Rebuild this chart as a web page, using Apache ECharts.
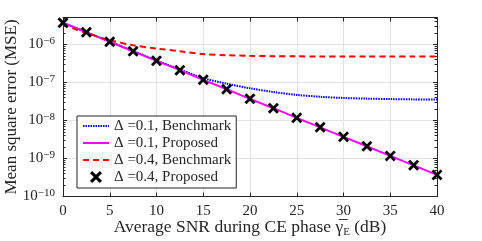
<!DOCTYPE html>
<html><head><meta charset="utf-8">
<script src="https://cdn.jsdelivr.net/npm/echarts@6/dist/echarts.min.js"></script>
<style>html,body{margin:0;padding:0;background:#fff}#c{width:482px;height:241px}</style>
</head><body><div id="c"></div>
<script>
const snr = [0, 2.5, 5, 7.5, 10, 12.5, 15, 17.5, 20, 22.5, 25, 27.5, 30, 32.5, 35, 37.5, 40];
const bench01 = [3.7e-6, 2.1e-6, 1.18e-6, 6.7e-7, 3.8e-7, 2.2e-7, 1.3e-7, 9.3e-8, 7.0e-8, 5.6e-8, 4.7e-8, 4.2e-8, 3.9e-8, 3.75e-8, 3.65e-8, 3.58e-8, 3.55e-8];
const prop01 = [3.7e-6, 2.1e-6, 1.17e-6, 6.6e-7, 3.7e-7, 2.1e-7, 1.17e-7, 6.6e-8, 3.7e-8, 2.1e-8, 1.17e-8, 6.6e-9, 3.7e-9, 2.1e-9, 1.17e-9, 6.6e-10, 3.7e-10];
const bench04 = [3.3e-6, 2.0e-6, 1.3e-6, 9.5e-7, 7.8e-7, 6.6e-7, 5.6e-7, 5.2e-7, 5.0e-7, 4.9e-7, 4.85e-7, 4.8e-7, 4.8e-7, 4.8e-7, 4.8e-7, 4.8e-7, 4.8e-7];
const prop04 = [3.7e-6, 2.1e-6, 1.17e-6, 6.6e-7, 3.7e-7, 2.1e-7, 1.17e-7, 6.6e-8, 3.7e-8, 2.1e-8, 1.17e-8, 6.6e-9, 3.7e-9, 2.1e-9, 1.17e-9, 6.6e-10, 3.7e-10];
const names = ['Δ =0.1, Benchmark', 'Δ =0.1, Proposed', 'Δ =0.4, Benchmark', 'Δ =0.4, Proposed'];
const xTicks = [0, 5, 10, 15, 20, 25, 30, 35, 40];
const yMin = 1e-10, yMax = 5.1e-6;

const FONT = 'Liberation Serif';
const AX = '#262626';
const pair = a => snr.map((x, i) => [x, a[i]]);
const minorVals = [];
for (let n = -10; n <= -6; n++) for (let k = 2; k <= 9; k++) { const v = k * Math.pow(10, n); if (v < yMax) minorVals.push(v); }
const xPath = 'path://M0,1.8L1.8,0L5,3.2L8.2,0L10,1.8L6.8,5L10,8.2L8.2,10L5,6.8L1.8,10L0,8.2L3.2,5Z';

const yLabel = v => {
  const e = Math.log10(v);
  if (Math.abs(e - Math.round(e)) > 1e-6) return '';
  return '{b|10}{s|−' + (-Math.round(e)) + '}';
};

const chart = echarts.init(document.getElementById('c'), null, {renderer: 'canvas'});
chart.setOption({
  animation: false,
  backgroundColor: '#fff',
  grid: {left: 63, right: 45, top: 17.5, bottom: 44.5, containLabel: false, outerBoundsMode: 'none'},
  xAxis: [{
    type: 'value', min: 0, max: 40, interval: 5,
    name: '{t|Average SNR during CE phase γ\u0305}{sub|E}{t| (dB)}',
    nameLocation: 'middle', nameGap: 21, nameMoveOverlap: false,
    nameTextStyle: {rich: {
      t: {fontFamily: FONT, fontSize: 17.5, color: AX, lineHeight: 20},
      sub: {fontFamily: FONT, fontSize: 11, color: AX, verticalAlign: 'bottom', lineHeight: 16}
    }},
    axisLine: {show: true, onZero: false, lineStyle: {color: AX, width: 1}},
    axisTick: {inside: true, length: 4, lineStyle: {color: AX}},
    axisLabel: {fontFamily: FONT, fontSize: 15, color: AX, margin: 7},
    splitLine: {show: true, lineStyle: {color: '#e3e3e3', width: 1}}
  }, {
    type: 'value', min: 0, max: 40, interval: 5, position: 'top',
    axisLine: {show: true, onZero: false, lineStyle: {color: AX, width: 1}},
    axisTick: {inside: true, length: 4, lineStyle: {color: AX}},
    axisLabel: {show: false}, splitLine: {show: false}
  }],
  yAxis: [{
    type: 'log', min: yMin, max: yMax, logBase: 10,
    name: 'Mean square error (MSE)', nameLocation: 'middle', nameGap: 42, nameMoveOverlap: false,
    nameTextStyle: {fontFamily: FONT, fontSize: 17, color: AX, lineHeight: 18},
    axisLine: {show: true, onZero: false, lineStyle: {color: AX, width: 1}},
    axisTick: {inside: true, length: 4, lineStyle: {color: AX}},
    minorTick: {show: true, splitNumber: 9, length: 2.5, lineStyle: {color: AX}},
    axisLabel: {formatter: yLabel, margin: 8, rich: {
      b: {fontFamily: FONT, fontSize: 15, color: AX, lineHeight: 18},
      s: {fontFamily: FONT, fontSize: 11, color: AX, verticalAlign: 'top', lineHeight: 10}
    }},
    splitLine: {show: true, lineStyle: {color: '#e3e3e3', width: 1}}
  }, {
    type: 'log', min: yMin, max: yMax, logBase: 10, position: 'right',
    axisLine: {show: true, onZero: false, lineStyle: {color: AX, width: 1}},
    axisTick: {inside: true, length: 4, lineStyle: {color: AX}},
    minorTick: {show: true, splitNumber: 9, length: 2.5, lineStyle: {color: AX}},
    axisLabel: {show: false}, splitLine: {show: false}
  }],
  legend: {
    data: [
      {name: names[0], itemStyle: {opacity: 0}},
      {name: names[1], itemStyle: {opacity: 0}},
      {name: names[2], itemStyle: {opacity: 0}},
      {name: names[3]}
    ],
    orient: 'vertical', left: 77, top: 116,
    backgroundColor: '#fff', borderColor: AX, borderWidth: 1, borderRadius: 0,
    padding: [2, 5, 3, 5], itemGap: 1, itemWidth: 26, itemHeight: 12,
    textStyle: {fontFamily: FONT, fontSize: 15, color: AX, lineHeight: 16}
  },
  series: [
    {type: 'line', name: 'minor', data: [], silent: true,
      markLine: {silent: true, symbol: 'none', label: {show: false},
        lineStyle: {type: [1, 2], color: '#cfcfcf', width: 1},
        data: minorVals.map(v => ({yAxis: v}))}},
    {type: 'line', name: names[0], data: pair(bench01), symbol: 'none', smooth: 0.3,
      lineStyle: {color: '#0000ff', width: 2, type: [1.5, 1]}, itemStyle: {color: '#0000ff'}},
    {type: 'line', name: names[1], data: pair(prop01), symbol: 'none',
      lineStyle: {color: '#ff00ff', width: 2}, itemStyle: {color: '#ff00ff'}},
    {type: 'line', name: names[2], data: pair(bench04), symbol: 'none', smooth: 0.3,
      lineStyle: {color: '#ff0000', width: 2, type: [6, 4]}, itemStyle: {color: '#ff0000'}},
    {type: 'scatter', name: names[3], data: pair(prop04), symbol: xPath, symbolSize: 11,
      itemStyle: {color: '#000', opacity: 1}, z: 5}
  ]
});
</script></body></html>
